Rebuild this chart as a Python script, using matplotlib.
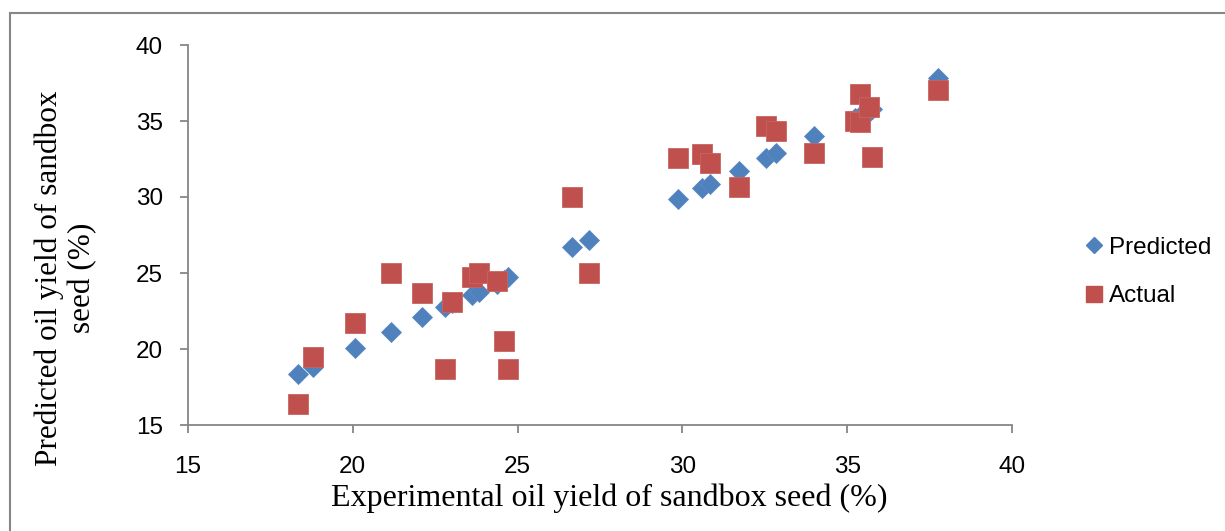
import matplotlib
matplotlib.use("Agg")
import matplotlib.pyplot as plt
from matplotlib.lines import Line2D
from matplotlib.patches import Rectangle

BLUE = "#4F81BD"
RED = "#C0504D"
GREY = "#868686"

# experimental yield (x) with the predicted and actual values
experimental = [18.35, 18.80, 20.08, 21.16, 22.11, 22.80, 23.00, 23.61, 23.82, 24.36, 24.58, 24.70, 26.64, 27.18,
                29.87, 30.60, 30.83, 31.72, 32.54, 32.85, 33.98, 35.24, 35.38, 35.38, 35.66, 35.74, 37.76]
predicted = [18.36, 18.84, 20.05, 21.14, 22.13, 22.78, 23.00, 23.55, 23.77, 24.30, 24.55, 24.72, 26.69, 27.17,
             29.87, 30.60, 30.84, 31.71, 32.55, 32.88, 34.00, 35.20, 35.30, 35.30, 35.60, 35.77, 37.81]
actual = [16.38, 19.45, 21.69, 25.02, 23.66, 18.68, 23.11, 24.72, 25.02, 24.47, 20.50, 18.68, 30.00, 25.02,
          32.57, 32.81, 32.26, 30.68, 34.69, 34.36, 32.91, 35.00, 36.76, 34.93, 35.95, 32.66, 37.04]

x_ticks = [15, 20, 25, 30, 35, 40]
y_ticks = [15, 20, 25, 30, 35, 40]

fig = plt.figure(figsize=(12.25, 5.31), dpi=100)
ax = fig.add_axes([188 / 1225, 1 - 425 / 531, (1012 - 188) / 1225, (425 - 45) / 531])

ax.plot(experimental, predicted, linestyle="none", marker="D", markersize=9.8, color=BLUE,
        markeredgecolor="#5b8bc4", markeredgewidth=0.6, clip_on=False)
ax.plot(experimental, actual, linestyle="none", marker="s", markersize=14.4, color=RED,
        markeredgecolor="#c96461", markeredgewidth=0.6, clip_on=False)

ax.set_xlim(15, 40)
ax.set_ylim(15, 40)
ax.set_xticks(x_ticks)
ax.set_yticks(y_ticks)

for side in ["top", "right"]:
    ax.spines[side].set_visible(False)
for side in ["left", "bottom"]:
    ax.spines[side].set_color(GREY)
    ax.spines[side].set_linewidth(1.3)

ax.tick_params(axis="both", direction="out", length=6, width=1.3, color=GREY, labelsize=17.5,
               labelfontfamily="Liberation Sans")
ax.tick_params(axis="x", pad=16)
ax.tick_params(axis="y", pad=12)

fig.text(609 / 1225, 1 - 498 / 531, "Experimental oil yield of sandbox seed (%)", ha="center", va="center",
         fontsize=23, family="Liberation Serif")
fig.text(66 / 1225, 1 - 278 / 531, "Predicted oil yield of sandbox\nseed (%)", ha="center", va="center",
         rotation=90, multialignment="center", fontsize=22.5, family="Liberation Serif", linespacing=1.2)

handles = [
    Line2D([], [], linestyle="none", marker="D", markersize=8.6, color=BLUE, label="Predicted"),
    Line2D([], [], linestyle="none", marker="s", markersize=12.2, color=RED, label="Actual"),
]
fig.legend(handles=handles, loc="center left", bbox_to_anchor=(1076 / 1225, 1 - 272 / 531), frameon=False,
           prop={"family": "Liberation Sans", "size": 17.5}, handlelength=0.7, handletextpad=0.25,
           labelspacing=1.1, borderaxespad=0)

fig.add_artist(Rectangle((10 / 1225, -0.1), 2, 1.1 - 13 / 531, transform=fig.transFigure, fill=False,
                         edgecolor=GREY, linewidth=1.5))

fig.savefig("out.png", dpi=100)
